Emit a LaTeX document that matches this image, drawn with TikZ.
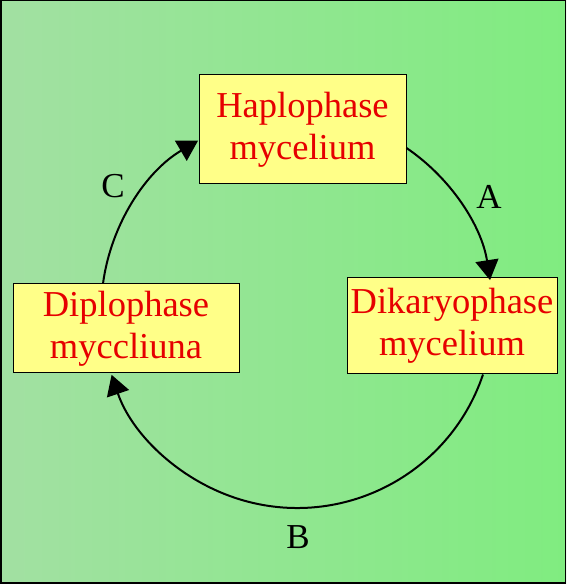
\documentclass[tikz,border=0pt]{standalone}
\usepackage{fontspec}
\setmainfont{Liberation Serif}
\usetikzlibrary{arrows.meta}
\definecolor{bgleft}{RGB}{162,224,162}
\definecolor{bgright}{RGB}{128,236,128}
\definecolor{boxyellow}{RGB}{255,255,136}
\definecolor{textred}{RGB}{230,0,0}
\tikzset{
  stagebox/.style={draw=black, line width=1pt, fill=boxyellow, inner sep=0pt,
    align=center, text=textred, font=\fontsize{36.5}{42}\selectfont},
  cyclearrow/.style={line width=2pt, -{Triangle[length=20pt,width=23pt]}},
  steplabel/.style={font=\fontsize{35}{40}\selectfont, text=black}
}
\begin{document}
\begin{tikzpicture}[x=1pt,y=1pt]
\useasboundingbox (0,0) rectangle (566,584);
\shade[left color=bgleft, right color=bgright] (0,0) rectangle (566,584);
\draw[line width=1.5pt] (0.75,0.75) rectangle (565.25,583.25);

\node[stagebox, minimum width=207pt, minimum height=109pt] (hap) at (302.5,454.5) {Haplophase\\mycelium};
\node[stagebox, minimum width=210pt, minimum height=96pt] (dik) at (452,258) {Dikaryophase\\mycelium};
\node[stagebox, minimum width=226pt, minimum height=89pt] (dip) at (126,255.5) {Diplophase\\myccliuna};

\draw[cyclearrow] ([yshift=-18.5pt]hap.east) arc[start angle=55.8, end angle=8.8, radius=196pt];
\draw[cyclearrow] ([xshift=31pt]dik.south) arc[start angle=-18.6, end angle=-161.3, radius=196pt];
\draw[cyclearrow] ([xshift=-23pt]dip.north) arc[start angle=172.3, end angle=120.4, radius=196pt];

\node[steplabel] (la) at (489,387) {A};
\node[steplabel] (lb) at (298,47) {B};
\node[steplabel] (lc) at (113,398) {C};
\end{tikzpicture}
\end{document}
